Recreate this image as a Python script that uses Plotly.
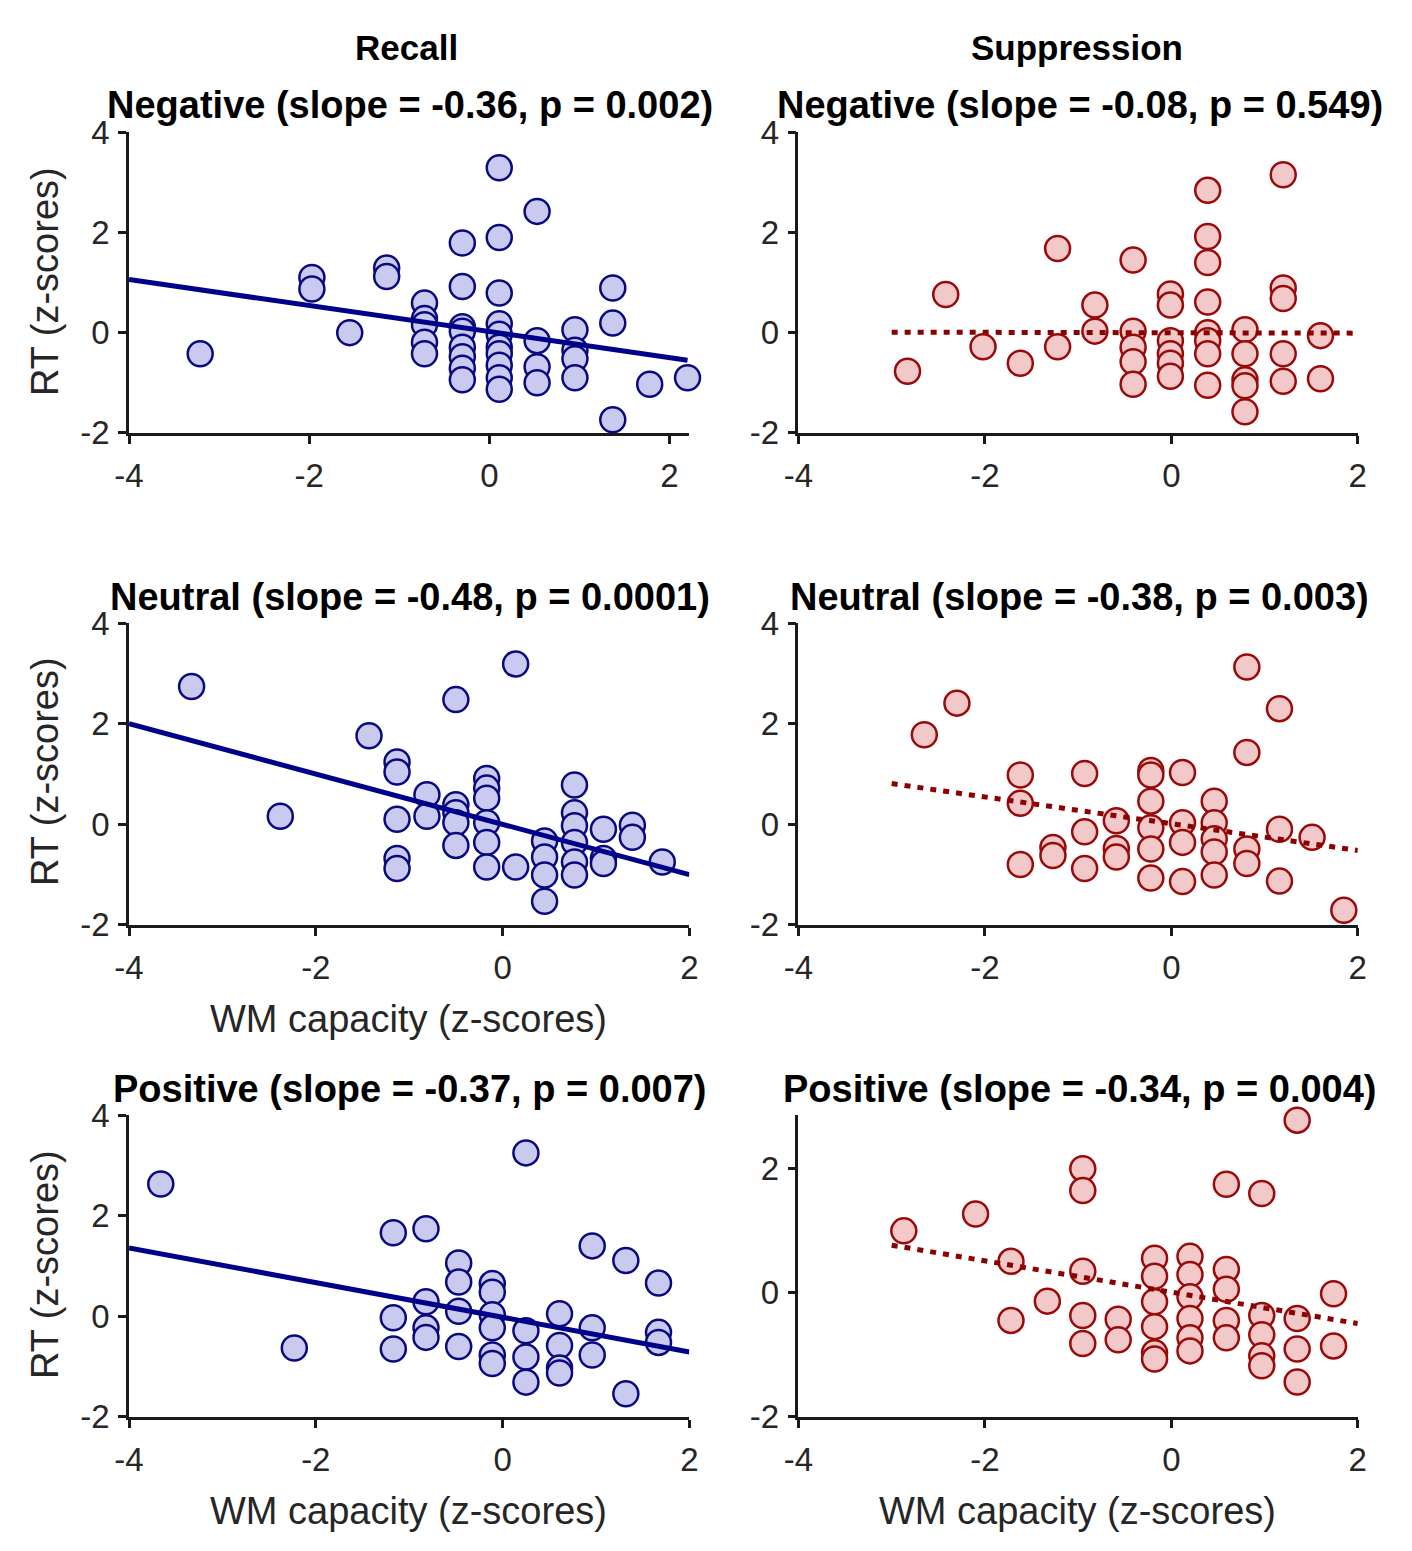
import plotly.graph_objects as go

# ---------------- data ----------------
# Recall – Negative
rec_neg_x = [-3.21, -1.97, -1.97, -1.55, -1.14, -1.14,
             -0.72, -0.72, -0.72, -0.72, -0.72,
             -0.30, -0.30, -0.30, -0.30, -0.30, -0.30, -0.30, -0.30,
             0.11, 0.11, 0.11, 0.11, 0.11, 0.11, 0.11, 0.11, 0.11, 0.11,
             0.53, 0.53, 0.53, 0.53,
             0.95, 0.95, 0.95, 0.95,
             1.37, 1.37, 1.37, 1.78, 2.20]
rec_neg_y = [-0.42, 1.10, 0.87, 0.00, 1.29, 1.12,
             0.59, 0.28, 0.16, -0.19, -0.42,
             1.79, 0.92, 0.12, 0.03, -0.29, -0.48, -0.71, -0.94,
             3.29, 1.90, 0.79, 0.18, -0.03, -0.29, -0.42, -0.65, -0.90, -1.13,
             2.42, -0.16, -0.68, -1.00,
             0.06, -0.35, -0.52, -0.90,
             0.89, 0.19, -1.74, -1.03, -0.90]
rec_neg_fit_x = [-4.0, 2.2]
rec_neg_fit_y = [1.06, -0.55]

# Suppression – Negative
sup_neg_x = [-2.83, -2.42, -2.02, -1.62, -1.22, -1.22, -0.82, -0.82,
             -0.41, -0.41, -0.41, -0.41, -0.41,
             -0.01, -0.01, -0.01, -0.01, -0.01, -0.01,
             0.39, 0.39, 0.39, 0.39, 0.39, 0.39, 0.39, 0.39,
             0.79, 0.79, 0.79, 0.79, 0.79,
             1.20, 1.20, 1.20, 1.20, 1.20,
             1.60, 1.60]
sup_neg_y = [-0.77, 0.76, -0.28, -0.61, 1.68, -0.28, 0.55, 0.03,
             1.45, 0.03, -0.29, -0.58, -1.03,
             0.77, 0.55, -0.16, -0.42, -0.61, -0.87,
             2.84, 1.92, 1.40, 0.61, 0.00, -0.16, -0.42, -1.05,
             0.06, -0.42, -0.94, -1.06, -1.58,
             3.15, 0.89, 0.68, -0.42, -0.97,
             -0.06, -0.92]
sup_neg_fit_x = [-3.0, 2.0]
sup_neg_fit_y = [0.01, -0.01]

# Recall – Neutral
rec_neu_x = [-3.33, -2.38, -1.43, -1.13, -1.13, -1.13, -1.13, -1.13,
             -0.81, -0.81,
             -0.50, -0.50, -0.50, -0.50, -0.50,
             -0.17, -0.17, -0.17, -0.17, -0.17, -0.17,
             0.14, 0.14,
             0.45, 0.45, 0.45, 0.45,
             0.77, 0.77, 0.77, 0.77, 0.77, 0.77,
             1.08, 1.08, 1.08,
             1.39, 1.39, 1.71]
rec_neu_y = [2.74, 0.16, 1.76, 1.24, 1.04, 0.10, -0.68, -0.88,
             0.59, 0.16,
             2.48, 0.39, 0.23, 0.03, -0.42,
             0.91, 0.72, 0.52, 0.03, -0.36, -0.85,
             3.19, -0.85,
             -0.33, -0.65, -1.01, -1.53,
             0.78, 0.23, -0.03, -0.36, -0.75, -1.01,
             -0.10, -0.68, -0.78,
             -0.02, -0.26, -0.75]
rec_neu_fit_x = [-4.0, 2.0]
rec_neu_fit_y = [2.0, -1.0]

# Suppression – Neutral
sup_neu_x = [-2.65, -2.30, -1.62, -1.62, -1.62, -1.27, -1.27,
             -0.93, -0.93, -0.93, -0.59, -0.59, -0.59,
             -0.22, -0.22, -0.22, -0.22, -0.22, -0.22,
             0.12, 0.12, 0.12, 0.12,
             0.46, 0.46, 0.46, 0.46, 0.46,
             0.81, 0.81, 0.81, 0.81,
             1.16, 1.16, 1.16, 1.51, 1.85]
sup_neu_y = [1.78, 2.41, 0.98, 0.42, -0.80, -0.46, -0.62,
             1.01, -0.15, -0.88, 0.07, -0.48, -0.65,
             1.07, 0.98, 0.46, -0.07, -0.49, -1.07,
             1.03, 0.03, -0.36, -1.14,
             0.46, 0.03, -0.29, -0.55, -1.01,
             3.13, 1.43, -0.49, -0.78,
             2.30, -0.10, -1.13, -0.26, -1.71]
sup_neu_fit_x = [-3.0, 2.0]
sup_neu_fit_y = [0.81, -0.52]

# Recall – Positive
rec_pos_x = [-3.66, -2.23, -1.17, -1.17, -1.17,
             -0.82, -0.82, -0.82, -0.82,
             -0.47, -0.47, -0.47, -0.47,
             -0.11, -0.11, -0.11, -0.11, -0.11, -0.11,
             0.25, 0.25, 0.25, 0.25,
             0.61, 0.61, 0.61, 0.61,
             0.96, 0.96, 0.96,
             1.32, 1.32,
             1.67, 1.67, 1.67]
rec_pos_y = [2.63, -0.63, 1.66, -0.03, -0.65,
             1.74, 0.29, -0.23, -0.42,
             1.06, 0.68, 0.10, -0.60,
             0.65, 0.48, 0.03, -0.23, -0.77, -0.94,
             3.25, -0.29, -0.81, -1.31,
             0.05, -0.58, -1.03, -1.13,
             1.40, -0.23, -0.77,
             1.11, -1.54,
             0.66, -0.32, -0.52]
rec_pos_fit_x = [-4.0, 2.0]
rec_pos_fit_y = [1.36, -0.71]

# Suppression – Positive
sup_pos_x = [-2.87, -2.10, -1.72, -1.72, -1.33,
             -0.95, -0.95, -0.95, -0.95, -0.95,
             -0.57, -0.57, -0.57,
             -0.18, -0.18, -0.18, -0.18, -0.18, -0.18,
             0.20, 0.20, 0.20, 0.20, 0.20, 0.20,
             0.59, 0.59, 0.59, 0.59, 0.59,
             0.97, 0.97, 0.97, 0.97, 0.97,
             1.35, 1.35, 1.35, 1.35,
             1.74, 1.74]
sup_pos_y = [0.99, 1.26, 0.50, -0.45, -0.14,
             1.99, 1.64, 0.34, -0.37, -0.82,
             2.86, -0.43, -0.76,
             0.55, 0.26, -0.15, -0.55, -0.97, -1.07,
             0.58, 0.29, -0.07, -0.42, -0.73, -0.94,
             1.74, 0.37, 0.05, -0.45, -0.73,
             1.59, -0.37, -0.68, -1.02, -1.18,
             2.77, -0.42, -0.91, -1.44,
             -0.02, -0.86]
sup_pos_fit_x = [-3.0, 2.0]
sup_pos_fit_y = [0.76, -0.50]

col_titles = ["Recall", "Suppression"]
panel_titles = ["Negative (slope = -0.36, p = 0.002)", "Negative (slope = -0.08, p = 0.549)",
                "Neutral (slope = -0.48, p = 0.0001)", "Neutral (slope = -0.38, p = 0.003)",
                "Positive (slope = -0.37, p = 0.007)", "Positive (slope = -0.34, p = 0.004)"]
x_ticks = [-4, -2, 0, 2]
x_tick_text = ["-4", "-2", "0", "2"]
y_ticks = [-2, 0, 2, 4]
y_tick_text = ["-2", "0", "2", "4"]
y_ticks_br = [-2, 0, 2]
y_tick_text_br = ["-2", "0", "2"]
x_label = "WM capacity (z-scores)"
y_label = "RT (z-scores)"

# ---------------- styling / layout ----------------
W, H = 1412, 1551
FONT = "Liberation Sans, Arial, Helvetica, sans-serif"
TXT = "#262626"
BLUE_FILL, BLUE_EDGE, BLUE_LINE = "rgb(202,202,240)", "#0a0a80", "#00008b"
RED_FILL, RED_EDGE, RED_LINE = "rgb(242,200,200)", "#9a0a0a", "#8b0000"

def px_x(p):
    return p / W

def px_y(p):
    return 1 - p / H

col_px = [(116, 686), (797, 1366)]
row_px = [(117, 425), (620, 929), (1124, 1433)]

panels = [
    (rec_neg_x, rec_neg_y, rec_neg_fit_x, rec_neg_fit_y, "blue", [-4, 2.22], [-2, 4], y_ticks, y_tick_text),
    (sup_neg_x, sup_neg_y, sup_neg_fit_x, sup_neg_fit_y, "red", [-4, 2], [-2, 4], y_ticks, y_tick_text),
    (rec_neu_x, rec_neu_y, rec_neu_fit_x, rec_neu_fit_y, "blue", [-4, 2], [-2, 4], y_ticks, y_tick_text),
    (sup_neu_x, sup_neu_y, sup_neu_fit_x, sup_neu_fit_y, "red", [-4, 2], [-2, 4], y_ticks, y_tick_text),
    (rec_pos_x, rec_pos_y, rec_pos_fit_x, rec_pos_fit_y, "blue", [-4, 2], [-2, 4], y_ticks, y_tick_text),
    (sup_pos_x, sup_pos_y, sup_pos_fit_x, sup_pos_fit_y, "red", [-4, 2], [-2, 2.85], y_ticks_br, y_tick_text_br),
]

fig = go.Figure()
layout = {}
annotations = []

for i, (xs, ys, fx, fy, colr, xr, yr, yt, ytt) in enumerate(panels):
    r, c = divmod(i, 2)
    n = i + 1
    xa = "x" if n == 1 else f"x{n}"
    ya = "y" if n == 1 else f"y{n}"
    if colr == "blue":
        fill, edge, lc, dash = BLUE_FILL, BLUE_EDGE, BLUE_LINE, "solid"
    else:
        fill, edge, lc, dash = RED_FILL, RED_EDGE, RED_LINE, "6px,7px"
    fig.add_trace(go.Scatter(x=xs, y=ys, mode="markers", xaxis=xa, yaxis=ya,
                             cliponaxis=False, showlegend=False,
                             marker=dict(size=25, color=fill,
                                         line=dict(color=edge, width=2.5))))
    fig.add_trace(go.Scatter(x=fx, y=fy, mode="lines", xaxis=xa, yaxis=ya,
                             cliponaxis=False, showlegend=False,
                             line=dict(color=lc, width=5, dash=dash)))
    x0, x1 = col_px[c]
    y0, y1 = row_px[r]
    axis_common = dict(showgrid=False, zeroline=False, showline=True,
                       linecolor="#1a1a1a", linewidth=2.5, ticks="outside",
                       ticklen=8, tickwidth=2.5, tickcolor="#1a1a1a",
                       tickfont=dict(family=FONT, size=33, color=TXT),
                       fixedrange=True)
    layout["xaxis" if n == 1 else f"xaxis{n}"] = dict(
        axis_common, domain=[px_x(x0), px_x(x1)], range=xr,
        tickvals=x_ticks, ticktext=x_tick_text, anchor=ya, ticklabelstandoff=4)
    layout["yaxis" if n == 1 else f"yaxis{n}"] = dict(
        axis_common, domain=[px_y(y1), px_y(y0)], range=yr,
        tickvals=yt, ticktext=ytt, anchor=xa, ticklabelstandoff=2)
    # panel title
    cx = [402, 1083][c]
    ty = [89, 593, 1097][r]
    annotations.append(dict(text=panel_titles[i], x=px_x(cx), y=px_y(ty),
                            xref="paper", yref="paper", showarrow=False,
                            xanchor="center", yanchor="middle",
                            font=dict(family=FONT, size=38, color="black", weight="bold")))

# column headers
for c, t in enumerate(col_titles):
    annotations.append(dict(text=t, x=px_x([398, 1080][c]), y=px_y(30),
                            xref="paper", yref="paper", showarrow=False,
                            xanchor="center", yanchor="middle",
                            font=dict(family=FONT, size=35, color="black", weight="bold")))

# y labels (left column)
for r, cy in enumerate([270, 772, 1277]):
    annotations.append(dict(text=y_label, x=px_x(30), y=px_y(cy),
                            xref="paper", yref="paper", showarrow=False,
                            textangle=-90, xanchor="center", yanchor="middle",
                            font=dict(family=FONT, size=38, color=TXT)))

# x labels
for (cx, cy) in [(400, 1025), (400, 1529), (1081, 1529)]:
    annotations.append(dict(text=x_label, x=px_x(cx), y=px_y(cy),
                            xref="paper", yref="paper", showarrow=False,
                            xanchor="center", yanchor="middle",
                            font=dict(family=FONT, size=38, color=TXT)))

fig.update_layout(width=W, height=H, margin=dict(l=0, r=0, t=0, b=0),
                  paper_bgcolor="white", plot_bgcolor="white",
                  annotations=annotations, **layout)

fig.write_html("out.html")
